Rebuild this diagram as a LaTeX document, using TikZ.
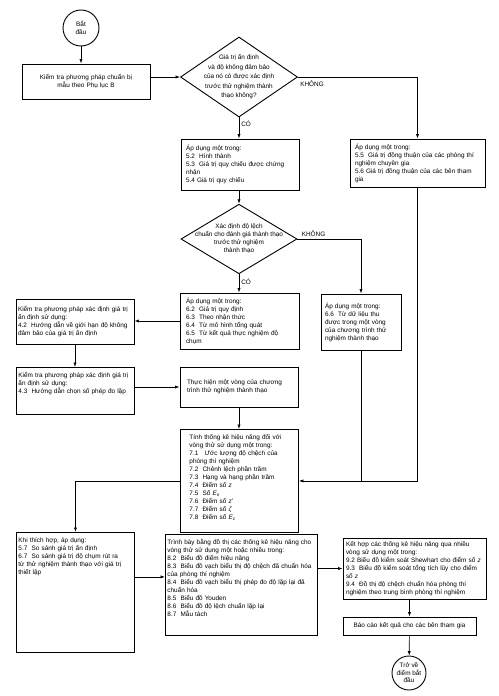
\documentclass[tikz,border=0pt]{standalone}
\usepackage{fontspec}
\setmainfont{Liberation Sans}
\usetikzlibrary{shapes.geometric,arrows.meta}

\newcommand{\bxfont}{\fontsize{6.4}{8}\selectfont}

\begin{document}
\begin{tikzpicture}[x=1pt,y=-1pt,line width=.7pt,>={Latex[length=4.5pt,width=3.2pt]},
    box/.style={draw, line width=.9pt, align=left, inner ysep=3pt, inner xsep=4pt, font=\bxfont},
    topbox/.style={box, anchor=north west, text height=7pt},
    decision/.style={diamond, draw, line width=.9pt, inner sep=-12pt, align=center},
    terminal/.style={circle, draw, line width=.9pt, inner sep=0pt, align=center, font=\fontsize{6.4}{7.5}\selectfont},
    lbl/.style={font=\bxfont, inner sep=2pt}]
   \useasboundingbox (0,0) rectangle (498,696);

   \node[terminal, minimum size=36pt] (start) at (81,28) {Bắt\\đầu};
   \node[box, align=center, text width=120pt, minimum height=35pt] (prep) at (86,81.5)
     {Kiểm tra phương pháp chuẩn bị\\mẫu theo Phụ lục B};
   \node[decision, font=\fontsize{6.4}{9.5}\selectfont, minimum width=117pt, minimum height=80pt] (q1) at (239,77)
     {Giá trị ấn định\\và độ không đảm bảo\\của nó có được xác định\\trước thử nghiệm thành\\thạo không?};
   \node[box, inner xsep=5pt, text width=108pt, minimum height=51pt] (ref5) at (240,164.5)
     {Áp dụng một trong:\\5.2~ Hình thành\\5.3~ Giá trị quy chiếu được chứng\\nhận\\5.4 Giá trị quy chiếu};
   \node[box, inner xsep=5pt, text width=125pt, minimum height=48pt] (cons5) at (417.5,163)
     {Áp dụng một trong:\\5.5~ Giá trị đồng thuận của các phòng thí\\nghiệm chuyên gia\\5.6 Giá trị đồng thuận của các bên tham\\gia};
   \node[decision, font=\fontsize{6.4}{8}\selectfont, minimum width=116pt, minimum height=62pt] (q2) at (239,239)
     {Xác định độ lệch\\chuẩn cho đánh giá thành thạo\\trước thử nghiệm\\thành thạo};
   \node[box, inner xsep=6pt, text width=107pt, minimum height=56pt] (val6) at (239.5,321)
     {Áp dụng một trong:\\6.2~ Giá trị quy định\\6.3~ Theo nhận thức\\6.4~ Từ mô hình tổng quát\\6.5~ Từ kết quả thực nghiệm độ\\chụm};
   \node[box, text width=72pt, minimum height=56pt] (data6) at (361,322)
     {Áp dụng một trong:\\6.6~ Từ dữ liệu thu\\được trong một vòng\\của chương trình thử\\nghiệm thành thạo};
   \node[box, inner xsep=2pt, text width=114pt, minimum height=45pt] (chk42) at (75,321.5)
     {Kiểm tra phương pháp xác định giá trị\\ấn định sử dụng:\\4.2~ Hướng dẫn về giới hạn độ không\\đảm bảo của giá trị ấn định};
   \node[topbox, inner xsep=2pt, text width=114pt, text depth=34pt] (chk43) at (16,367)
     {Kiểm tra phương pháp xác định giá trị\\ấn định sử dụng:\\4.3~ Hướng dẫn chọn số phép đo lặp};
   \node[box, inner xsep=7pt, text width=104pt, minimum height=40pt] (run) at (239,387)
     {Thực hiện một vòng của chương\\trình thử nghiệm thành thạo};
   \node[topbox, inner xsep=9pt, text width=100pt, text depth=90pt] (stats) at (180,429)
     {Tính thống kê hiệu năng đối với\\vòng thử sử dụng một trong:\\7.1~~ Ước lượng độ chệch của\\phòng thí nghiệm\\7.2~ Chênh lệch phần trăm\\7.3~ Hạng và hạng phần trăm\\7.4~ Điểm số \textit{z}\\7.5~ Số \textit{E}\textsubscript{n}\\7.6~ Điểm số \textit{z}'\\7.7~ Điểm số \textit{ζ}\\7.8~ Điểm số \textit{E}\textsubscript{z}};
   \node[topbox, inner xsep=2pt, text width=114pt, text depth=107pt] (cmp) at (16,532)
     {Khi thích hợp, áp dụng:\\5.7~ So sánh giá trị ấn định\\6.7~ So sánh giá trị độ chụm rút ra\\từ thử nghiệm thành thạo với giá trị\\thiết lập};
   \node[topbox, inner xsep=2pt, text width=148pt, text depth=88pt] (graph) at (165,534)
     {Trình bày bằng đồ thị các thống kê hiệu năng cho\\vòng thử sử dụng một hoặc nhiều trong:\\8.2~ Biểu đồ điểm hiệu năng\\8.3~ Biểu đồ vạch biểu thị độ chệch đã chuẩn hóa\\của phòng thí nghiệm\\8.4~ Biểu đồ vạch biểu thị phép đo độ lặp lại đã\\chuẩn hóa\\8.5~ Biểu đồ Youden\\8.6~ Biểu đồ độ lệch chuẩn lặp lại\\8.7~ Mẫu tách};
   \node[box, inner xsep=3pt, text width=137pt, minimum height=61pt] (comb) at (414.5,568.5)
     {Kết hợp các thống kê hiệu năng qua nhiều\\vòng sử dụng một trong:\\9.2 Biểu đồ kiểm soát Shewhart cho điểm số \textit{z}\\9.3~ Biểu đồ kiểm soát tổng tích lũy cho điểm\\số \textit{z}\\9.4~ Đồ thị độ chệch chuẩn hóa phòng thí\\nghiệm theo trung bình phòng thí nghiệm};
   \node[box, align=center, text width=125pt, minimum height=18pt] (report) at (409.5,626)
     {Báo cáo kết quả cho các bên tham gia};
   \node[terminal, minimum size=34pt] (back) at (409,673) {Trở về\\điểm bắt\\đầu};

   \draw[->] (start) -- (start |- prep.north);
   \draw[->] (q1.west -| prep.east) -- (q1.west);
   \draw[->] (q1.south) -- node[lbl, right, pos=.3] (yes1) {CÓ} (q1.south |- ref5.north);
   \draw[->] (q1.east) -| node[lbl, below right, pos=0, yshift=-2pt] (no1) {KHÔNG} (cons5.north);
   \draw[->] (ref5.south -| q2.north) -- (q2.north);
   \draw[->] (q2.south) -- node[lbl, right, pos=.4] (yes2) {CÓ} (q2.south |- val6.north);
   \draw[->] (q2.east) -| node[lbl, above right, pos=0, xshift=2pt] (no2) {KHÔNG} (data6.north);
   \draw[->] (val6.west) -- (val6.west -| chk42.east);
   \draw[->] (chk42.south) -- (chk42.south |- chk43.north);
   \draw[->] (run.west -| chk43.east) -- (run.west);
   \draw[->] (run.south) -- (run.south |- stats.north);
   \draw[->] (cons5.south) |- (stats.east);
   \draw (data6.south) -- (data6.south |- stats.east);
   \draw[->] (stats.west) -| (cmp.north);
   \draw[->] (cmp.east |- graph.174) -- (graph.174);
   \draw[->] (comb.west -| graph.east) -- (comb.west);
   \draw[->] (report.north |- comb.south) -- (report.north);
   \draw[->] (report) -- (back);
\end{tikzpicture}
\end{document}
